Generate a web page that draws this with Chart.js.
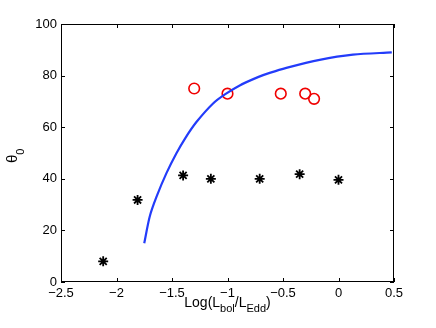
<!DOCTYPE html>
<html>
<head>
<meta charset="utf-8">
<script src="https://cdn.jsdelivr.net/npm/chart.js@4.4.1/dist/chart.umd.min.js"></script>
<style>
  html, body { margin: 0; padding: 0; background: #fff; }
  #wrap { width: 436px; height: 328px; }
</style>
</head>
<body>
<div id="wrap"><canvas id="grafica" width="436" height="328"></canvas></div>
<script>
// datos
var circX = [-1.30, -1.00, -0.52, -0.30, -0.22];
var circY = [75, 73, 73, 73, 71];
var starX = [-2.12, -1.81, -1.40, -1.15, -0.71, -0.35, 0.0];
var starY = [8, 31.8, 41.3, 40, 40, 41.8, 39.6];
var curvaX = [-1.75, -1.70, -1.64, -1.55, -1.46, -1.38, -1.28, -1.13, -1.02, -0.89, -0.72, -0.62, -0.47, -0.17, 0.13, 0.48];
var curvaY = [15, 25.5, 33, 42.2, 49.9, 55.8, 62, 69.2, 72.8, 76.2, 79.5, 81.05, 83.0, 86.1, 88.1, 89.0];
var xTicks = [-2.5, -2, -1.5, -1, -0.5, 0, 0.5];
var yTicks = [0, 20, 40, 60, 80, 100];

function puntos(xs, ys) {
  return xs.map(function (x, i) { return { x: x, y: ys[i] }; });
}

function etiqueta(v) {
  var s = String(Math.round(v * 10) / 10);
  return s.replace('-', '\u2212');
}

// marco, ticks hacia adentro y titulos con subindices
var marco = {
  id: 'marco',
  afterDraw: function (chart) {
    var ctx = chart.ctx;
    var a = chart.chartArea;
    var sx = chart.scales.x, sy = chart.scales.y;
    ctx.save();
    ctx.strokeStyle = '#000';
    ctx.lineWidth = 1;
    ctx.strokeRect(a.left + 0.5, a.top + 0.5, a.right - a.left - 1, a.bottom - a.top - 1);
    ctx.beginPath();
    xTicks.forEach(function (t) {
      var px = Math.round(sx.getPixelForValue(t)) + 0.5;
      ctx.moveTo(px, a.bottom); ctx.lineTo(px, a.bottom - 4);
      ctx.moveTo(px, a.top); ctx.lineTo(px, a.top + 4);
    });
    yTicks.forEach(function (t) {
      var py = Math.round(sy.getPixelForValue(t)) + 0.5;
      ctx.moveTo(a.left, py); ctx.lineTo(a.left + 4, py);
      ctx.moveTo(a.right, py); ctx.lineTo(a.right - 4, py);
    });
    ctx.stroke();

    // titulo x: Log(L_bol/L_Edd)
    ctx.fillStyle = '#000';
    ctx.textBaseline = 'alphabetic';
    ctx.textAlign = 'left';
    var big = '14px "Liberation Sans", Arial, sans-serif';
    var small = '11px "Liberation Sans", Arial, sans-serif';
    var partes = [['Log(L', big, 0], ['bol', small, 5], ['/L', big, 0], ['Edd', small, 5], [')', big, 0]];
    var ancho = 0;
    partes.forEach(function (p) { ctx.font = p[1]; ancho += ctx.measureText(p[0]).width; });
    var x0 = (a.left + a.right) / 2 - ancho / 2;
    var base = 307;
    partes.forEach(function (p) {
      ctx.font = p[1];
      ctx.fillText(p[0], x0, base + p[2]);
      x0 += ctx.measureText(p[0]).width;
    });

    // titulo y: theta_0
    ctx.translate(17, 163);
    ctx.rotate(-Math.PI / 2);
    ctx.font = '15px "Liberation Sans", Arial, sans-serif';
    ctx.fillText('\u03b8', 0, 0);
    var w = ctx.measureText('\u03b8').width;
    ctx.font = small;
    ctx.fillText('0', w, 7);
    ctx.restore();
  }
};

var ctxG = document.getElementById('grafica').getContext('2d');
var grafica = new Chart(ctxG, {
  type: 'scatter',
  data: {
    datasets: [
      {
        label: 'curva',
        data: puntos(curvaX, curvaY),
        showLine: true,
        borderColor: 'rgb(35, 60, 250)',
        backgroundColor: 'rgb(35, 60, 250)',
        borderWidth: 2.2,
        pointRadius: 0,
        tension: 0.3
      },
      {
        label: 'circulos',
        data: puntos(circX, circY),
        pointStyle: 'circle',
        pointRadius: 5.3,
        borderColor: 'rgb(240, 0, 0)',
        backgroundColor: 'rgba(0,0,0,0)',
        borderWidth: 1.6
      },
      {
        label: 'estrellas',
        data: puntos(starX, starY),
        pointStyle: 'star',
        pointRadius: 5,
        borderColor: '#000',
        backgroundColor: '#000',
        borderWidth: 1.8
      }
    ]
  },
  options: {
    responsive: false,
    animation: false,
    layout: { padding: { left: 0, top: 24, right: 42, bottom: 0 } },
    plugins: { legend: { display: false }, tooltip: { enabled: false } },
    scales: {
      x: {
        type: 'linear',
        min: -2.5,
        max: 0.5,
        afterFit: function (s) { s.height = 46; },
        afterBuildTicks: function (s) { s.ticks = xTicks.map(function (v) { return { value: v }; }); },
        grid: { display: false, drawTicks: false },
        border: { display: false },
        ticks: {
          color: '#000',
          padding: 4,
          maxRotation: 0,
          font: { family: '"Liberation Sans", Arial, sans-serif', size: 13 },
          callback: function (v) { return etiqueta(v); }
        }
      },
      y: {
        type: 'linear',
        min: 0,
        max: 100,
        afterFit: function (s) { s.width = 61; },
        afterBuildTicks: function (s) { s.ticks = yTicks.map(function (v) { return { value: v }; }); },
        grid: { display: false, drawTicks: false },
        border: { display: false },
        ticks: {
          color: '#000',
          padding: 4,
          font: { family: '"Liberation Sans", Arial, sans-serif', size: 13 },
          callback: function (v) { return etiqueta(v); }
        }
      }
    }
  },
  plugins: [marco]
});
</script>
</body>
</html>
